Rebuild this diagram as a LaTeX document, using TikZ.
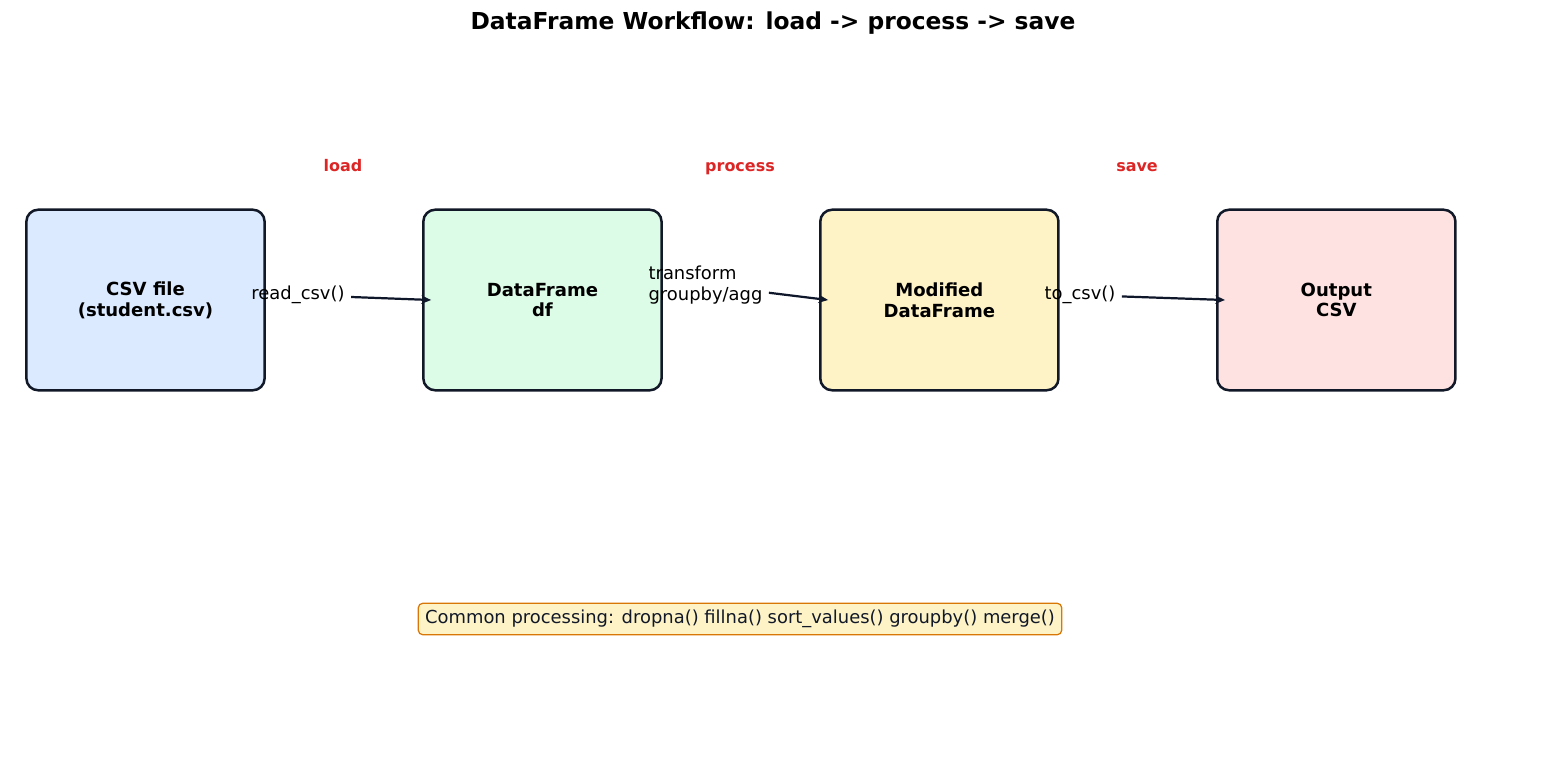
\documentclass[tikz,border=0pt]{standalone}
\usepackage{fontspec}
\setmainfont{DejaVu Sans}
\usepackage{xcolor}
\usetikzlibrary{arrows.meta, positioning, calc}

\definecolor{edgecol}{HTML}{111827}
\definecolor{arrowcol}{HTML}{0F172A}
\definecolor{stagered}{HTML}{DC2626}
\definecolor{fillblue}{HTML}{DBEAFE}
\definecolor{fillgreen}{HTML}{DCFCE7}
\definecolor{fillyellow}{HTML}{FEF3C7}
\definecolor{fillpink}{HTML}{FEE2E2}
\definecolor{noteedge}{HTML}{D97706}

\begin{document}
\begin{tikzpicture}[
    x=0.72pt, y=-0.72pt,
    every node/.style={color=black, font=\fontsize{12.9}{15}\selectfont},
    box/.style={draw=edgecol, line width=1.8pt, rounded corners=8.5pt,
                minimum width=171.5pt, minimum height=130pt, align=center,
                font=\fontsize{13}{15}\selectfont\bfseries},
    stage/.style={font=\fontsize{11.5}{13}\selectfont\bfseries, color=stagered, anchor=base},
    oplabel/.style={align=left, inner sep=4.5pt},
    note/.style={draw=noteedge, fill=fillyellow, line width=0.9pt, rounded corners=3.5pt,
                 inner xsep=5pt, inner ysep=5pt, text=edgecol},
    arrow/.style={-{Stealth[length=7pt, width=6pt]}, color=arrowcol, line width=1.6pt}
]
\useasboundingbox (0,0) rectangle (1547,766);

% --- Title ---
\node[font=\fontsize{16.8}{19}\selectfont\bfseries] (title) at (773,23)
    {DataFrame Workflow: load -> process -> save};

% --- Stage boxes ---
\node[box, fill=fillblue] (csv) at (145.5,300) {CSV file\\(student.csv)};
\node[box, fill=fillgreen, right=112.5pt of csv] (df) {DataFrame\\df};
\node[box, fill=fillyellow, right=112.5pt of df] (mod) {Modified\\DataFrame};
\node[box, fill=fillpink, right=112.5pt of mod] (out) {Output\\CSV};

% --- Stage names (red, above the gaps) ---
\node[stage] (stload) at (343,171) {load};
\node[stage] (stproc) at (740,171) {process};
\node[stage] (stsave) at (1137,171) {save};

% --- Operation labels ---
\node[oplabel] (opread) at (298,295) {read\_csv()};
\node[oplabel] (optrans) at (705.5,285) {transform\\groupby/agg};
\node[oplabel] (opwrite) at (1080,295) {to\_csv()};

% --- Arrows into the next box ---
\draw[arrow] (opread) -- ([xshift=6.5pt] df.west);
\draw[arrow] (optrans) -- ([xshift=6.5pt] mod.west);
\draw[arrow] (opwrite) -- ([xshift=6.5pt] out.west);

% --- Note ---
\node[note] (common) at (740,619)
    {Common processing: dropna() fillna() sort\_values() groupby() merge()};

\end{tikzpicture}
\end{document}
